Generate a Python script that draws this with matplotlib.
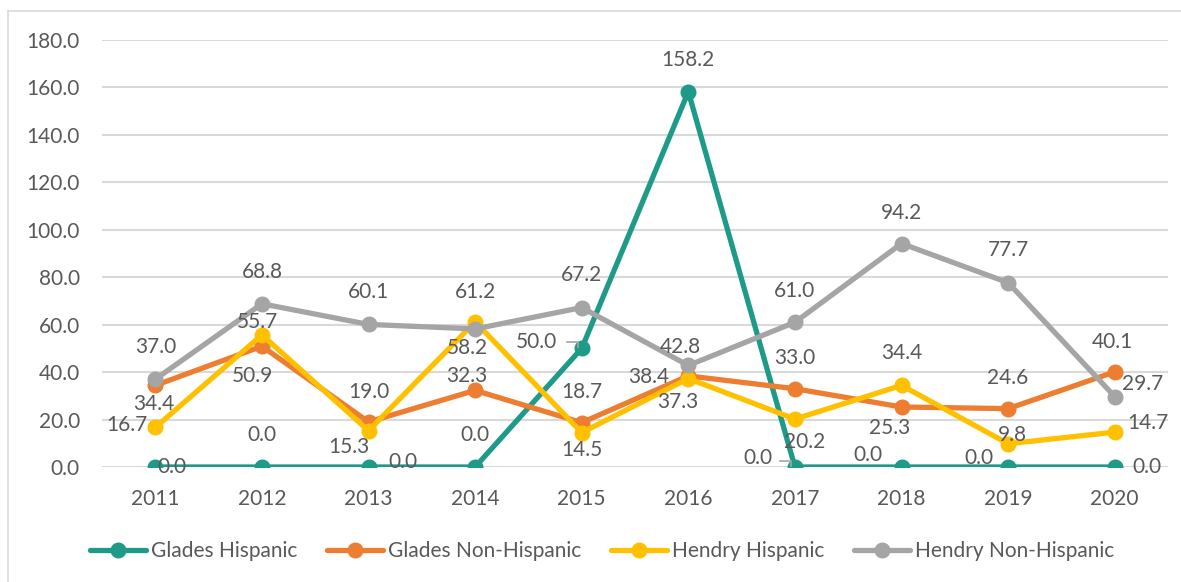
import matplotlib.pyplot as plt
from matplotlib.lines import Line2D
from matplotlib.transforms import IdentityTransform

# ---------------------
# Data
# ---------------------
years = ["2011", "2012", "2013", "2014", "2015", "2016", "2017", "2018", "2019", "2020"]
glades_hisp = [0.0, 0.0, 0.0, 0.0, 50.0, 158.2, 0.0, 0.0, 0.0, 0.0]
glades_non = [34.4, 50.9, 19.0, 32.3, 18.7, 38.4, 33.0, 25.3, 24.6, 40.1]
hendry_hisp = [16.7, 55.7, 15.3, 61.2, 14.5, 37.3, 20.2, 34.4, 9.8, 14.7]
hendry_non = [37.0, 68.8, 60.1, 58.2, 67.2, 42.8, 61.0, 94.2, 77.7, 29.7]

labels = ["Glades Hispanic", "Glades Non-Hispanic", "Hendry Hispanic", "Hendry Non-Hispanic"]
colors = ["#1E9A89", "#ED7D31", "#FFC000", "#A5A5A5"]

# label offsets in pixels (dx, dy) from each point, roughly like excel's auto placement
offsets = [
    [(17, 0), (0, 32), (34, 5), (0, 32), (-45, 6), (0, 32), (-37, 9), (-34, 12), (-29, 9), (32, 0)],
    [(-2, -19), (-10, -30), (0, 30), (-8, 14), (0, 31), (-40, -1), (0, 31), (-12, -21), (0, 31), (-2, 30)],
    [(-28, 2), (-5, 13), (-20, -16), (0, 30), (0, -17), (-11, -23), (10, -23), (0, 32), (4, 9), (33, 9)],
    [(0, 32), (0, 32), (0, 32), (-8, -19), (0, 33), (-8, 18), (0, 31), (0, 31), (0, 33), (28, 13)],
]

plt.rcParams['font.family'] = ['Lato', 'DejaVu Sans']
TXT = "#595959"
FS = 15

fig = plt.figure(figsize=(11.81, 5.82), dpi=100)
ax = fig.add_axes([0.0864, 0.1976, 0.9026, 0.7337])

x = list(range(len(years)))
series = [glades_hisp, glades_non, hendry_hisp, hendry_non]
for vals, c, name in zip(series, colors, labels):
    ax.plot(x, vals, color=c, lw=3.8, marker="o", ms=10.5, label=name, zorder=3,
            solid_capstyle="round", solid_joinstyle="round")

# data labels
for vals, offs in zip(series, offsets):
    for xi, v, (dx, dy) in zip(x, vals, offs):
        ax.annotate(f"{v:.1f}", (xi, v), xytext=(dx, dy), textcoords="offset pixels",
                    ha="center", va="center", fontsize=FS, color=TXT, zorder=5)

ax.set_xlim(-0.5, 9.5)
ax.set_ylim(0, 180)

# small leader lines for the two labels pushed to the left
for xi in (4, 6):
    px, py = ax.transData.transform((xi, glades_hisp[xi]))
    fig.add_artist(Line2D([px - 15, px - 4, px - 4], [py + 6, py + 6, py + 1],
                          transform=IdentityTransform(), color="#A6A6A6", lw=1.2, zorder=6))

ax.set_yticks(range(0, 181, 20))
ax.set_yticklabels([f"{t:.1f}" for t in range(0, 181, 20)])
ax.set_xticks(x)
ax.set_xticklabels(years)
ax.tick_params(axis="both", length=0, labelsize=FS, labelcolor=TXT)
ax.tick_params(axis="y", pad=16)
ax.tick_params(axis="x", pad=16)
ax.grid(axis="y", color="#D9D9D9", lw=1.5, zorder=0)
ax.set_axisbelow(True)
for s in ax.spines.values():
    s.set_visible(False)

fig.legend(loc="center", bbox_to_anchor=(0.51, 0.053), ncol=4, frameon=False,
           fontsize=FS, labelcolor=TXT, handlelength=2.7, handletextpad=0.25,
           columnspacing=1.4)

# chart area border
fig.add_artist(Line2D([8 / 1181, 8 / 1181], [0, 1 - 11 / 582], transform=fig.transFigure,
                      color="#D9D9D9", lw=1.2))
fig.add_artist(Line2D([8 / 1181, 1], [1 - 11 / 582, 1 - 11 / 582], transform=fig.transFigure,
                      color="#D9D9D9", lw=1.2))

fig.savefig("out.png", dpi=100)
